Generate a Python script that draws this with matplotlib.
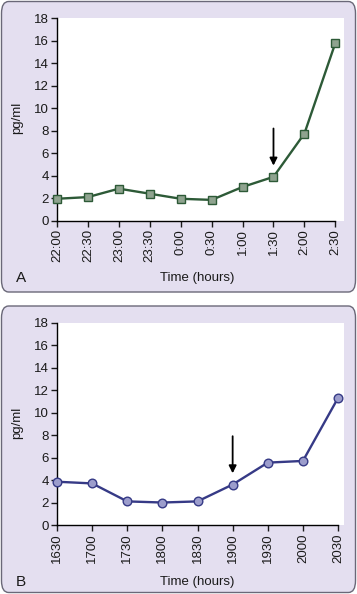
import matplotlib
matplotlib.use("Agg")
from matplotlib import pyplot as plt
from matplotlib.patches import FancyBboxPatch

plt.rcParams["font.family"] = ["Liberation Sans", "DejaVu Sans"]

# panel A data
times_a = ["22:00", "22:30", "23:00", "23:30", "0:00", "0:30", "1:00", "1:30", "2:00", "2:30"]
values_a = [1.95, 2.1, 2.85, 2.4, 1.95, 1.85, 3.0, 3.9, 7.75, 15.8]
arrow_a = 7  # index of 1:30

# panel B data
times_b = ["1630", "1700", "1730", "1800", "1830", "1900", "1930", "2000", "2030"]
values_b = [3.85, 3.7, 2.1, 2.0, 2.1, 3.6, 5.55, 5.7, 11.3]
arrow_b = 5  # index of 1900

yticks = [0, 2, 4, 6, 8, 10, 12, 14, 16, 18]

W, H = 357, 594
fig = plt.figure(figsize=(W / 100, H / 100), dpi=100)
fig.patch.set_facecolor("white")

bg = "#e4dff0"
edge = "#6a6878"


def panel_box(y0, y1):
    # y0, y1 in pixels from top
    box = FancyBboxPatch((1.5 / W, 1 - y1 / H), (W - 3) / W, (y1 - y0) / H,
                         boxstyle="round,pad=0,rounding_size=0.02",
                         transform=fig.transFigure, facecolor=bg,
                         edgecolor=edge, linewidth=1.0, zorder=-5)
    fig.patches.append(box)


panel_box(1.5, 292)
panel_box(306, 592.5)


def draw(ax, labels, values, arrow_i, line_color, face, marker, ms, letter, right_pad):
    x = list(range(len(labels)))
    ax.set_facecolor("white")
    ax.plot(x, values, color=line_color, linewidth=1.7, marker=marker,
            markersize=ms, markerfacecolor=face, markeredgecolor=line_color,
            markeredgewidth=1.0, clip_on=False, zorder=3)
    ax.set_xlim(0, len(labels) - 1 + right_pad)
    ax.set_ylim(0, 18)
    ax.set_yticks(yticks)
    ax.set_xticks(x)
    ax.set_xticklabels(labels, rotation=90)
    for s in ["top", "right"]:
        ax.spines[s].set_visible(False)
    ax.spines["bottom"].set_bounds(0, len(labels) - 1)
    ax.spines["left"].set_linewidth(1.0)
    ax.spines["bottom"].set_linewidth(1.0)
    ax.tick_params(direction="out", length=4, width=1.0, labelsize=9.5,
                   colors="#1a1a1a", pad=2)
    ax.text(-0.139, 0.507, "pg/ml", transform=ax.transAxes, fontsize=9.5,
            rotation=90, ha="center", va="center", color="#1a1a1a")
    ax.text(0.49, -0.283, "Time (hours)", transform=ax.transAxes, fontsize=9.5,
            ha="center", va="center", color="#1a1a1a")
    ax.annotate("", xy=(arrow_i, values[arrow_i] + 1.0),
                xytext=(arrow_i, values[arrow_i] + 4.3),
                arrowprops=dict(arrowstyle="-|>", color="black", lw=1.3,
                                mutation_scale=11, shrinkA=0, shrinkB=0))
    ax.text(-0.143, -0.283, letter, transform=ax.transAxes, fontsize=11,
            ha="left", va="center", color="#1a1a1a")


ax_a = fig.add_axes([57 / W, 1 - 220.7 / H, 287 / W, 202.4 / H])
draw(ax_a, times_a, values_a, arrow_a, "#2d5a37", "#8fa38f", "s", 5.8, "A", 0.28)

ax_b = fig.add_axes([57 / W, 1 - 525 / H, 287 / W, 202.3 / H])
draw(ax_b, times_b, values_b, arrow_b, "#363a86", "#9c9dcc", "o", 6.2, "B", 0.17)

fig.savefig("out.png", dpi=100, facecolor=fig.get_facecolor())
